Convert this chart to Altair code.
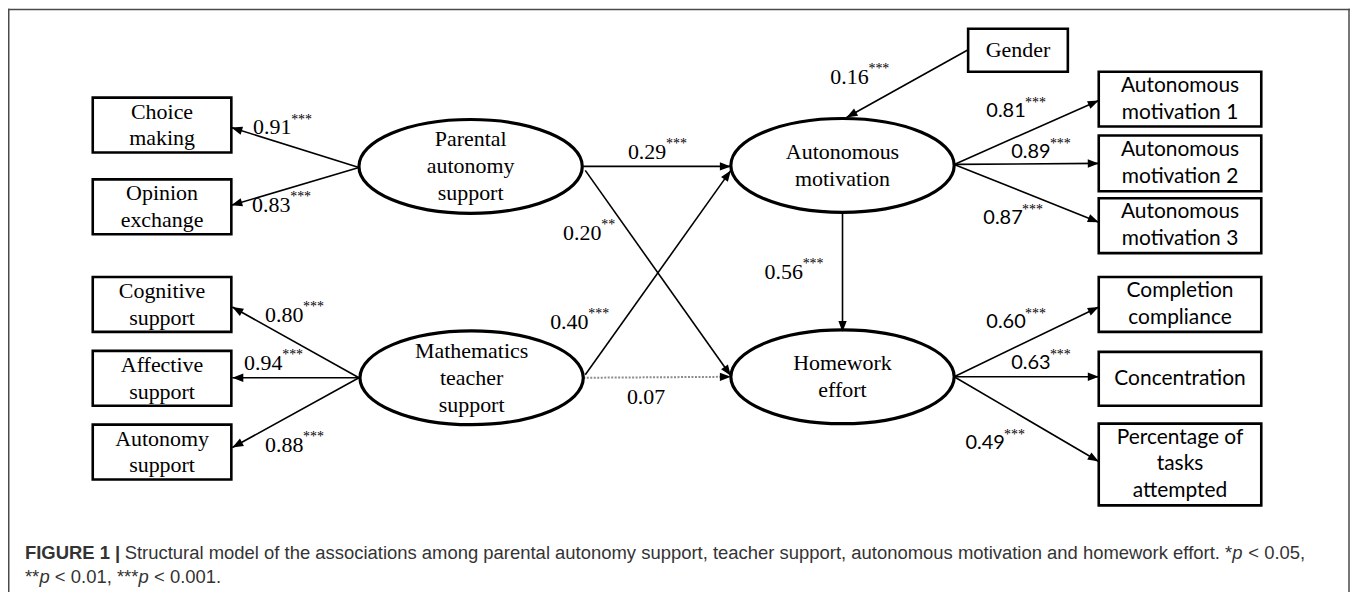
import math
import altair as alt
import pandas as pd

# ---------------- data ----------------
# observed indicators (rectangles)
box_label = ["Choice\nmaking", "Opinion\nexchange", "Cognitive\nsupport", "Affective\nsupport",
             "Autonomy\nsupport", "Gender",
             "Autonomous\nmotivation 1", "Autonomous\nmotivation 2", "Autonomous\nmotivation 3",
             "Completion\ncompliance", "Concentration", "Percentage of\ntasks\nattempted"]
box_x1 = [93, 93, 93, 93, 93, 971, 1102, 1102, 1102, 1102, 1102, 1102]
box_x2 = [232, 232, 232, 232, 232, 1071, 1265, 1265, 1265, 1265, 1265, 1265]
box_y1 = [97, 179, 277, 351, 425, 28, 71, 135, 198, 277, 352, 424]
box_y2 = [152, 234, 332, 406, 480, 71, 126, 191, 253, 332, 406, 506]
box_font = ["serif"] * 6 + ["sans"] * 6

# latent constructs (ellipses)
latent_label = ["Parental\nautonomy\nsupport", "Mathematics\nteacher\nsupport",
                "Autonomous\nmotivation", "Homework\neffort"]
latent_x = [472, 473, 845, 845]
latent_y = [166, 378, 165, 377]

# paths
edge_x1 = [360, 360, 360, 360, 360, 585, 587, 587, 585, 971, 845, 957, 957, 957, 957, 957, 957]
edge_y1 = [167, 167, 378, 378, 378, 166, 170, 375, 378, 49, 212, 164, 164, 164, 377, 377, 377]
edge_x2 = [232, 232, 233, 233, 233, 733, 733, 733, 733, 849, 845, 1102, 1102, 1102, 1102, 1102, 1102]
edge_y2 = [127, 205, 307, 378, 448, 166, 376, 170, 377, 117, 332, 100, 163, 222, 307, 377, 462]
edge_dotted = [False] * 8 + [True] + [False] * 8

coef = ["0.91", "0.83", "0.80", "0.94", "0.88", "0.29", "0.20", "0.40", "0.07", "0.16", "0.56",
        "0.81", "0.89", "0.87", "0.60", "0.63", "0.49"]
stars = ["***", "***", "***", "***", "***", "***", "**", "***", "", "***", "***",
         "***", "***", "***", "***", "***", "***"]
coef_x = [273, 272, 285, 264, 285, 649, 584, 571, 648, 852, 786, 1009, 1034, 1006, 1009, 1034, 988]
coef_y = [127, 205, 315, 363, 445, 152, 233, 322, 397, 76, 272, 110, 152, 218, 322, 363, 443]
coef_font = ["serif"] * 11 + ["sans"] * 6

# caption, split into style runs
cap_text = ["FIGURE 1 |",
            "Structural model of the associations among parental autonomy support, teacher support, "
            "autonomous motivation and homework effort. *",
            "p", "< 0.05,",
            "**", "p", "< 0.01, ***", "p", "< 0.001."]
cap_style = ["bold", "normal", "italic", "normal", "normal", "italic", "normal", "italic", "normal"]
cap_x = [25, 125, 1236, 1252, 25, 39.5, 55, 139, 154.5]
cap_y = [560, 560, 560, 560, 584, 584, 584, 584, 584]

frame_x1 = [8.75, 8, 1353]
frame_x2 = [8.75, 1354, 1353]
frame_y1 = [8, 8.75, 8]
frame_y2 = [600, 8.75, 600]

# ---------------- layout ----------------
W, H = 1346, 584
X0, Y0 = 8, 8
SERIF = "Liberation Serif"
SANS = "Lato"
LH = 27  # line height of node labels

xs = alt.Scale(domain=[X0, X0 + W], nice=False, zero=False)
ys = alt.Scale(domain=[Y0, Y0 + H], nice=False, zero=False, reverse=True)

k = 0.5523
ry = 0.42
ELLIPSE = (f"M -1 0 C -1 {-ry*k:.4f} {-k} {-ry} 0 {-ry} "
           f"C {k} {-ry} 1 {-ry*k:.4f} 1 0 "
           f"C 1 {ry*k:.4f} {k} {ry} 0 {ry} "
           f"C {-k} {ry} -1 {ry*k:.4f} -1 0 Z")
ARROW = "M 0 0 L -0.38 1 L 0.38 1 Z"


def first_line_y(center, label):
    n = label.count("\n") + 1
    return center - (n - 1) / 2 * LH


boxes = pd.DataFrame(dict(label=box_label, x1=box_x1, x2=box_x2, y1=box_y1, y2=box_y2, font=box_font))
boxes["cx"] = (boxes.x1 + boxes.x2) / 2
boxes["ty"] = [first_line_y((a + b) / 2, l) for a, b, l in zip(boxes.y1, boxes.y2, boxes.label)]
latents = pd.DataFrame(dict(label=latent_label, x=latent_x, y=latent_y))
latents["ty"] = [first_line_y(c, l) for c, l in zip(latents.y, latents.label)]
edges = pd.DataFrame(dict(x1=edge_x1, y1=edge_y1, x2=edge_x2, y2=edge_y2, dotted=edge_dotted))
edges["angle"] = [
    (math.degrees(math.atan2(bx - ax, -(by - ay))) + 360) % 360
    for ax, ay, bx, by in zip(edges.x1, edges.y1, edges.x2, edges.y2)
]
coefs = pd.DataFrame(dict(coef=coef, stars=stars, x=coef_x, y=coef_y, font=coef_font))
cap = pd.DataFrame(dict(text=cap_text, style=cap_style, x=cap_x, y=cap_y))
frame = pd.DataFrame(dict(x1=frame_x1, x2=frame_x2, y1=frame_y1, y2=frame_y2))


def X(f):
    return alt.X(f, type="quantitative", scale=xs, axis=None)


def Y(f):
    return alt.Y(f, type="quantitative", scale=ys, axis=None)


frame_l = alt.Chart(frame).mark_rule(color="#4a4a4a", strokeWidth=1.5).encode(
    x=X("x1"), x2="x2", y=Y("y1"), y2="y2")

solid = alt.Chart(edges[~edges.dotted]).mark_rule(color="black", strokeWidth=1.6).encode(
    x=X("x1"), x2="x2", y=Y("y1"), y2="y2")
dotted = alt.Chart(edges[edges.dotted]).mark_rule(color="#8c8c8c", strokeWidth=2,
                                                  strokeDash=[2, 1.5]).encode(
    x=X("x1"), x2="x2", y=Y("y1"), y2="y2")

heads = alt.Chart(edges).mark_point(shape=ARROW, size=484, filled=True, color="black",
                                    opacity=1).encode(
    x=X("x2"), y=Y("y2"), angle=alt.Angle("angle:Q", scale=None))

rects = alt.Chart(boxes).mark_rect(fill="white", stroke="black", strokeWidth=2.6).encode(
    x=X("x1"), x2="x2", y=Y("y1"), y2="y2")

ells = alt.Chart(latents).mark_point(shape=ELLIPSE, size=224 ** 2, filled=False,
                                     fill="white", fillOpacity=1, stroke="black",
                                     strokeWidth=3.2, opacity=1).encode(
    x=X("x"), y=Y("y"))

box_serif = alt.Chart(boxes[boxes.font == "serif"]).mark_text(
    font=SERIF, fontSize=22, lineHeight=LH, lineBreak="\n", color="black",
    align="center", baseline="middle").encode(x=X("cx"), y=Y("ty"), text="label:N")
box_sans = alt.Chart(boxes[boxes.font == "sans"]).mark_text(
    font=SANS, fontSize=21, lineHeight=LH, lineBreak="\n", color="black",
    align="center", baseline="middle").encode(x=X("cx"), y=Y("ty"), text="label:N")
lat_text = alt.Chart(latents).mark_text(
    font=SERIF, fontSize=22, lineHeight=LH, lineBreak="\n", color="black",
    align="center", baseline="middle").encode(x=X("x"), y=Y("ty"), text="label:N")

coef_serif = alt.Chart(coefs[coefs.font == "serif"]).mark_text(
    font=SERIF, fontSize=22, color="black", align="center", baseline="middle").encode(
    x=X("x"), y=Y("y"), text="coef:N")
coef_sans = alt.Chart(coefs[coefs.font == "sans"]).mark_text(
    font=SANS, fontSize=20, color="black", align="center", baseline="middle").encode(
    x=X("x"), y=Y("y"), text="coef:N")
star_l = alt.Chart(coefs).mark_text(
    font=SERIF, fontSize=14, color="black", align="left", baseline="middle",
    dx=19, dy=-8).encode(x=X("x"), y=Y("y"), text="stars:N")


def cap_layer(style):
    kw = dict(font="Liberation Sans", fontSize=18.5, color="#333333",
              align="left", baseline="alphabetic")
    if style == "bold":
        kw["fontWeight"] = "bold"
    if style == "italic":
        kw["fontStyle"] = "italic"
    return alt.Chart(cap[cap["style"] == style]).mark_text(**kw).encode(
        x=X("x"), y=Y("y"), text="text:N")


chart = alt.layer(
    frame_l, solid, dotted, rects, ells, heads,
    box_serif, box_sans, lat_text, coef_serif, coef_sans, star_l,
    cap_layer("bold"), cap_layer("normal"), cap_layer("italic")
).properties(width=W, height=H, padding=0, autosize="none", background="white"
).configure_view(strokeWidth=0)

chart.save("out.html", embed_options={"renderer": "svg", "actions": False})
